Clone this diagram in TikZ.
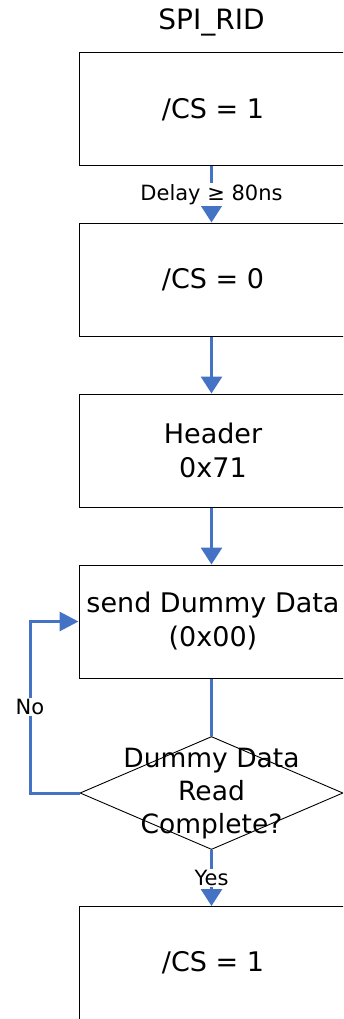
\documentclass[tikz,border=0pt]{standalone}
\usepackage{fontspec}
\setmainfont{DejaVu Sans}
\usetikzlibrary{arrows.meta,shapes.geometric}
\definecolor{flowblue}{HTML}{4472C4}
\begin{document}
\begin{tikzpicture}[x=1pt,y=-1pt,
  stepbox/.style={draw=black,line width=1pt,rectangle,minimum width=268pt,
    minimum height=113pt,inner sep=0pt,align=center,
    font=\fontsize{27}{34}\selectfont},
  decision/.style={draw=black,line width=0.9pt,diamond,minimum width=263pt,
    minimum height=113pt,inner sep=0pt},
  decisiontext/.style={align=center,inner sep=0pt,font=\fontsize{26.5}{33}\selectfont},
  heading/.style={inner sep=0pt,font=\fontsize{28}{32}\selectfont},
  flow/.style={draw=flowblue,line width=3pt},
  flowarrow/.style={flow,-{Triangle[width=21pt,length=17pt]}},
  looparrow/.style={flow,-{Triangle[width=19pt,length=19pt]}},
  edgelabel/.style={fill=white,inner sep=1pt,font=\fontsize{21}{25}\selectfont}
]
\useasboundingbox (0,0) rectangle (343,1019);
\clip (0,0) rectangle (343,1019);

% title
\node[heading] (title) at (211.5,22) {SPI\_RID};

% process steps
\node[stepbox] (cs1)    at (213,109.5) {/CS = 1};
\node[stepbox] (cs0)    at (213,279.5) {/CS = 0};
\node[stepbox] (header) at (213,450.5) {Header\\0x71};
\node[stepbox] (dummy)  at (213,621.5) {send Dummy Data\\(0x00)};
\node[decision] (check) at (211.5,793) {};
\node[decisiontext] (checktext) at (211.5,794) {Dummy Data\\Read\\Complete?};
\node[stepbox] (csend)  at (213,963) {/CS = 1};

% connectors (drawn on the centre line x = 211.5)
\draw[flowarrow] (cs1.south -| check) -- node[edgelabel] (delay) {Delay ≥ 80ns} (cs0.north -| check);
\draw[flowarrow] (cs0.south -| check) -- (header.north -| check);
\draw[flowarrow] (header.south -| check) -- (dummy.north -| check);
\draw[flow] (dummy.south -| check) -- (check.north);
\draw[flowarrow] (check.south) -- node[edgelabel] (yes) {Yes} (csend.north -| check);
\coordinate (loopcorner) at (30,793);
\draw[looparrow] (check.west) -- (loopcorner) |- node[edgelabel,pos=0.25] (no) {No} (dummy.west);
\end{tikzpicture}
\end{document}
